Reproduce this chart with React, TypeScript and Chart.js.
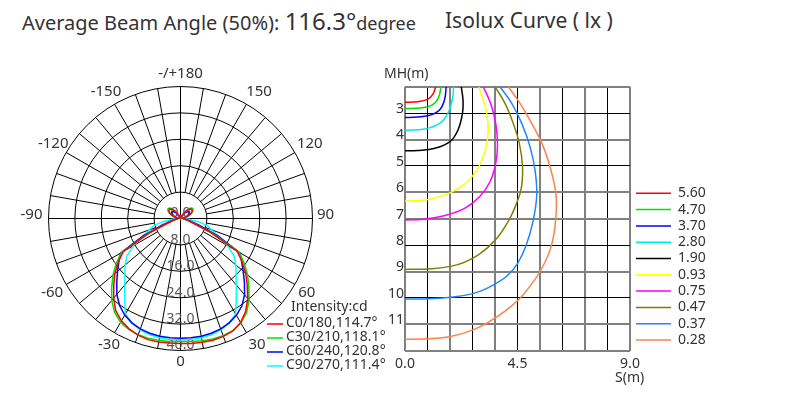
import React, { useEffect, useRef } from 'react';
import { Chart, registerables } from 'chart.js';

Chart.register(...registerables);

const FONT = '"Noto Sans", "Open Sans", "DejaVu Sans", sans-serif';
const TEXT = '#333333';

// ---------------- Polar luminous intensity (cd), gamma 0..180 step 5 ----------------
const GAMMA_DEG = [0, 5, 10, 15, 20, 25, 30, 35, 40, 45, 50, 55, 60, 65, 70, 75, 80, 85, 90, 95, 100, 105, 110, 115, 120, 125, 130, 135, 140, 145, 150, 155, 160, 165, 170, 175, 180];

const C0 = [37.9, 38.0, 38.1, 38.2, 38.0, 37.6, 36.4, 34.4, 31.7, 28.6, 25.8, 22.8, 19.8, 10.0, 4.0, 2.2, 1.4, 1.0, 0.8, 0.8, 1.2, 1.9, 2.6, 3.3, 3.9, 4.3, 4.4, 4.1, 3.4, 2.4, 1.3, 0.5, 0.1, 0, 0, 0, 0];
const C180 = [37.9, 37.9, 38.0, 38.0, 37.6, 36.9, 35.8, 34.2, 31.5, 28.6, 26.0, 23.0, 20.0, 10.5, 4.2, 2.3, 1.4, 1.0, 0.8, 0.8, 1.2, 1.9, 2.6, 3.3, 3.9, 4.3, 4.4, 4.1, 3.4, 2.4, 1.3, 0.5, 0.1, 0, 0, 0, 0];
const C30 = [37.3, 37.4, 37.6, 37.8, 37.8, 37.5, 36.6, 34.9, 32.3, 29.3, 26.5, 23.6, 20.5, 11.0, 4.5, 2.5, 1.5, 1.0, 0.9, 1.0, 1.4, 2.1, 2.9, 3.7, 4.3, 4.7, 4.8, 4.5, 3.8, 2.7, 1.5, 0.6, 0.1, 0, 0, 0, 0];
const C210 = [37.3, 37.4, 37.5, 37.6, 37.5, 37.1, 36.3, 34.8, 32.4, 29.5, 26.7, 23.8, 20.7, 11.0, 4.5, 2.5, 1.5, 1.0, 0.9, 1.0, 1.4, 2.1, 2.9, 3.7, 4.3, 4.7, 4.8, 4.5, 3.8, 2.7, 1.5, 0.6, 0.1, 0, 0, 0, 0];
const C60 = [36.3, 36.3, 36.2, 36.0, 35.6, 34.9, 33.9, 32.4, 30.2, 27.4, 24.8, 22.6, 20.8, 12.5, 6.0, 3.0, 1.6, 1.0, 0.7, 0.7, 1.0, 1.5, 2.1, 2.6, 3.0, 3.2, 3.2, 2.9, 2.3, 1.6, 0.8, 0.3, 0, 0, 0, 0, 0];
const C240 = [36.3, 36.3, 36.2, 36.0, 35.6, 34.9, 33.8, 32.2, 30.0, 27.3, 24.9, 22.8, 21.0, 12.5, 6.0, 3.0, 1.6, 1.0, 0.7, 0.7, 1.0, 1.5, 2.1, 2.6, 3.0, 3.2, 3.2, 2.9, 2.3, 1.6, 0.8, 0.3, 0, 0, 0, 0, 0];
const C90 = [36.8, 36.8, 36.7, 36.4, 35.9, 34.9, 33.4, 29.5, 26.3, 23.8, 21.9, 19.8, 16.5, 12.5, 10.0, 8.5, 5.5, 2.5, 1.0, 0.5, 0.3, 0.3, 0.4, 0.5, 0.6, 0.6, 0.6, 0.5, 0.4, 0.3, 0.2, 0.1, 0, 0, 0, 0, 0];
const C270 = [36.8, 36.8, 36.7, 36.4, 35.9, 34.9, 33.4, 29.5, 26.3, 23.8, 21.9, 19.8, 16.5, 12.5, 10.0, 8.5, 5.5, 2.5, 1.0, 0.5, 0.3, 0.3, 0.4, 0.5, 0.6, 0.6, 0.6, 0.5, 0.4, 0.3, 0.2, 0.1, 0, 0, 0, 0, 0];

const POLAR_NAMES = ['C0/180,114.7°', 'C30/210,118.1°', 'C60/240,120.8°', 'C90/270,111.4°'];
const POLAR_COLORS = ['#ff0000', '#00e000', '#0000ff', '#00ffff'];
const POLAR_RIGHT = [C0, C30, C60, C90];
const POLAR_LEFT = [C180, C210, C240, C270];
const POLAR_TICKS = [0, 8, 16, 24, 32, 40];
const POLAR_ANGLE_LABELS = [180, 150, 120, 90, 60, 30, 0, -30, -60, -90, -120, -150];
const POLAR_LEGEND_TITLE = 'Intensity:cd';

// angles clockwise from the top of the diagram, 5 degree steps
const POLAR_LABELS: number[] = [];
for (let i = 0; i < 72; i++) POLAR_LABELS.push(180 - i * 5);

// ---------------- Isolux curves: [S (m), MH (m)] ----------------
const ISO_LEVELS = ['5.60', '4.70', '3.70', '2.80', '1.90', '0.93', '0.75', '0.47', '0.37', '0.28'];
const ISO_COLORS = ['#ff0000', '#00e000', '#0000ff', '#00e8e8', '#000000', '#ffff00', '#ff00ff', '#808000', '#1e88ff', '#ff8048'];

const ISO_560: [number, number][] = [[1.23, 2.0], [1.12, 2.28], [0.9, 2.48], [0.5, 2.57], [0, 2.59]];
const ISO_470: [number, number][] = [[1.44, 2.0], [1.34, 2.42], [1.08, 2.7], [0.6, 2.81], [0, 2.83]];
const ISO_370: [number, number][] = [[1.65, 2.0], [1.58, 2.5], [1.38, 2.88], [0.9, 3.1], [0, 3.17]];
const ISO_280: [number, number][] = [[1.95, 2.0], [1.89, 2.5], [1.72, 3.0], [1.4, 3.38], [0.8, 3.6], [0, 3.65]];
const ISO_190: [number, number][] = [[2.25, 2.0], [2.32, 2.5], [2.3, 3.0], [2.12, 3.64], [1.8, 4.08], [1.2, 4.33], [0.5, 4.42], [0, 4.43]];
const ISO_093: [number, number][] = [[2.95, 2.0], [3.2, 2.7], [3.32, 3.4], [3.3, 4.0], [3.15, 4.6], [2.85, 5.2], [2.4, 5.68], [1.8, 6.02], [1.0, 6.26], [0, 6.34]];
const ISO_075: [number, number][] = [[3.13, 2.0], [3.45, 2.7], [3.63, 3.4], [3.7, 4.2], [3.63, 4.9], [3.4, 5.6], [3.0, 6.15], [2.4, 6.6], [1.6, 6.88], [0.7, 7.02], [0, 7.05]];
const ISO_047: [number, number][] = [[3.6, 2.0], [4.0, 2.63], [4.33, 3.39], [4.57, 4.14], [4.7, 5.0], [4.66, 5.8], [4.47, 6.4], [4.13, 7.1], [3.62, 7.8], [2.95, 8.36], [2.1, 8.74], [1.0, 8.9], [0, 8.92]];
const ISO_037: [number, number][] = [[3.8, 2.0], [4.27, 2.63], [4.67, 3.39], [5.0, 4.27], [5.2, 5.16], [5.27, 6.1], [5.12, 7.1], [4.85, 8.0], [4.5, 8.7], [4.1, 9.15], [3.55, 9.5], [2.9, 9.78], [2.0, 9.96], [1.0, 10.03], [0, 10.04]];
const ISO_028: [number, number][] = [[4.13, 2.0], [4.6, 2.63], [5.07, 3.39], [5.53, 4.27], [5.87, 5.28], [6.05, 6.2], [6.0, 7.3], [5.8, 8.19], [5.4, 9.0], [4.93, 9.64], [4.53, 10.08], [4.0, 10.5], [3.4, 10.88], [2.75, 11.2], [1.87, 11.45], [0.93, 11.55], [0, 11.57]];
const ISO_CURVES = [ISO_560, ISO_470, ISO_370, ISO_280, ISO_190, ISO_093, ISO_075, ISO_047, ISO_037, ISO_028];

const S_TICK_LABELS = [0, 4.5, 9];
const MH_TICK_LABELS = [3, 4, 5, 6, 7, 8, 9, 10, 11];
const MH_SOFT_LINES = [2, 4, 6, 7, 9, 11, 12];

// small per-label nudges of the angle labels (pixels), same order as POLAR_ANGLE_LABELS
const ANGLE_LABEL_NUDGE: [number, number][] = [[0, 4], [5, 3], [2, 1], [-2, -2], [-1, 3], [3, 1], [0, -2], [2, 1], [-1, 3], [-2, -2], [0, 1], [-1, 3]];

function polarValue(right: number[], left: number[], angle: number): number {
  const idx = GAMMA_DEG.indexOf(Math.abs(angle));
  return angle >= 0 ? right[idx] : left[idx];
}

const polarDecor = {
  id: 'polarDecor',
  beforeDatasetsDraw(chart: any) {
    const s = chart.scales.r;
    const ctx = chart.ctx;
    ctx.save();
    ctx.strokeStyle = '#000';
    ctx.lineWidth = 1;
    for (let i = 0; i < POLAR_LABELS.length; i += 2) {
      const a = POLAR_LABELS[i];
      const full = a % 90 === 0;
      const p1 = s.getPointPositionForValue(i, full ? 0 : 8);
      const p2 = s.getPointPositionForValue(i, 40);
      ctx.beginPath();
      ctx.moveTo(p1.x, p1.y);
      ctx.lineTo(p2.x, p2.y);
      ctx.stroke();
    }
    ctx.font = `14px ${FONT}`;
    ctx.fillStyle = '#555';
    ctx.textAlign = 'center';
    ctx.textBaseline = 'middle';
    POLAR_TICKS.forEach((v) => {
      const d = s.getDistanceFromCenterForValue(v);
      ctx.fillText(v.toFixed(1), s.xCenter, s.yCenter + d - 5);
    });
    ctx.restore();
  },
  afterDraw(chart: any) {
    const s = chart.scales.r;
    const ctx = chart.ctx;
    ctx.save();
    ctx.font = `15px ${FONT}`;
    ctx.fillStyle = TEXT;
    ctx.textAlign = 'center';
    ctx.textBaseline = 'middle';
    POLAR_ANGLE_LABELS.forEach((a, k) => {
      const idx = ((180 - a) / 5 + 72) % 72;
      const p = s.getPointPosition(idx, s.drawingArea + 15);
      const [nx, ny] = ANGLE_LABEL_NUDGE[k];
      ctx.fillText(a === 180 ? '-/+180' : String(a), p.x + nx, p.y - 2 + ny);
    });
    // legend
    ctx.font = `14px ${FONT}`;
    ctx.textAlign = 'left';
    ctx.fillText(POLAR_LEGEND_TITLE, 291, 257);
    chart.data.datasets.forEach((ds: any, i: number) => {
      const y = 274 + i * 14;
      ctx.strokeStyle = ds.borderColor;
      ctx.lineWidth = 1.5;
      ctx.beginPath();
      ctx.moveTo(267, y);
      ctx.lineTo(283, y);
      ctx.stroke();
      ctx.fillStyle = TEXT;
      ctx.fillText(ds.label, 286, y - 0.5);
    });
    ctx.restore();
  },
};

const isoDecor = {
  id: 'isoDecor',
  afterDraw(chart: any) {
    const xs = chart.scales.x;
    const ys = chart.scales.y;
    const ctx = chart.ctx;
    ctx.save();
    ctx.fillStyle = TEXT;
    ctx.font = `14px ${FONT}`;
    ctx.textBaseline = 'middle';
    ctx.textAlign = 'right';
    MH_TICK_LABELS.forEach((v) => {
      ctx.fillText(String(v), xs.left - 1, ys.getPixelForValue(v) - 4);
    });
    ctx.textAlign = 'center';
    S_TICK_LABELS.forEach((v) => {
      ctx.fillText(v.toFixed(1), xs.getPixelForValue(v), ys.bottom + 13);
    });
    ctx.textAlign = 'left';
    ctx.fillText('MH(m)', 4, 24);
    ctx.fillText('S(m)', 235, 328);
    chart.data.datasets.forEach((ds: any, i: number) => {
      const y = 143.3 + i * 16.3;
      ctx.strokeStyle = ds.borderColor;
      ctx.lineWidth = 1.5;
      ctx.beginPath();
      ctx.moveTo(256, y);
      ctx.lineTo(291, y);
      ctx.stroke();
      ctx.fillStyle = TEXT;
      ctx.fillText(ds.label, 298, y);
    });
    ctx.restore();
  },
};

export default function App() {
  const polarRef = useRef<HTMLCanvasElement | null>(null);
  const isoRef = useRef<HTMLCanvasElement | null>(null);

  useEffect(() => {
    const polar = new Chart(polarRef.current as HTMLCanvasElement, {
      type: 'radar',
      data: {
        labels: POLAR_LABELS.map(String),
        datasets: POLAR_NAMES.map((name, k) => ({
          label: name,
          data: POLAR_LABELS.map((a) => polarValue(POLAR_RIGHT[k], POLAR_LEFT[k], a)),
          borderColor: POLAR_COLORS[k],
          backgroundColor: 'transparent',
          borderWidth: 1.5,
          pointRadius: 0,
          fill: false,
          tension: 0,
        })),
      },
      options: {
        animation: false,
        responsive: false,
        events: [],
        layout: { padding: 0 },
        plugins: { legend: { display: false }, tooltip: { enabled: false } },
        scales: {
          r: {
            min: 0,
            max: 40,
            startAngle: 0,
            ticks: { display: false, stepSize: 8 },
            grid: { circular: true, color: '#000', lineWidth: 1 },
            angleLines: { display: false },
            pointLabels: { display: false },
            afterFit: (s: any) => {
              s.xCenter = 180.5;
              s.yCenter = 168.5;
              s.drawingArea = 132;
            },
          } as any,
        },
      },
      plugins: [polarDecor],
    } as any);

    const iso = new Chart(isoRef.current as HTMLCanvasElement, {
      type: 'scatter',
      data: {
        datasets: ISO_CURVES.map((pts, k) => ({
          label: ISO_LEVELS[k],
          data: pts.map(([x, y]) => ({ x, y })),
          showLine: true,
          borderColor: ISO_COLORS[k],
          backgroundColor: ISO_COLORS[k],
          borderWidth: 1.5,
          pointRadius: 0,
          tension: 0.4,
          fill: false,
        })),
      },
      options: {
        animation: false,
        responsive: false,
        events: [],
        layout: { padding: { left: 25, right: 181, top: 36.7, bottom: 44.3 } },
        plugins: { legend: { display: false }, tooltip: { enabled: false } },
        scales: {
          x: {
            type: 'linear',
            min: 0,
            max: 9,
            ticks: { display: false, stepSize: 0.9 },
            grid: {
              drawTicks: false,
              color: (c: any) => (c.index % 2 === 0 ? '#808080' : '#000'),
              lineWidth: (c: any) => (c.index % 2 === 0 ? 2 : 1),
            },
            border: { display: false },
          },
          y: {
            type: 'linear',
            min: 2,
            max: 12,
            reverse: true,
            ticks: { display: false, stepSize: 1 },
            grid: {
              drawTicks: false,
              color: (c: any) => (c.tick && MH_SOFT_LINES.includes(Math.round(c.tick.value)) ? '#808080' : '#000'),
              lineWidth: (c: any) => (c.tick && MH_SOFT_LINES.includes(Math.round(c.tick.value)) ? 2 : 1),
            },
            border: { display: false },
          },
        },
      },
      plugins: [isoDecor],
    } as any);

    return () => {
      polar.destroy();
      iso.destroy();
    };
  }, []);

  return (
    <div style={{ position: 'absolute', left: 0, top: 0, width: 811, height: 395, background: '#fff', fontFamily: FONT, color: TEXT, overflow: 'hidden' }}>
      <div style={{ position: 'absolute', left: 22, top: 8, fontSize: 20, lineHeight: '26px', whiteSpace: 'nowrap' }}>
        Average Beam Angle (50%): <span style={{ fontSize: 24 }}>116.3°</span><span style={{ fontSize: 18 }}>degree</span>
      </div>
      <div style={{ position: 'absolute', left: 445, top: 7, fontSize: 21, lineHeight: '26px', whiteSpace: 'nowrap' }}>
        Isolux Curve ( lx )
      </div>
      <canvas ref={polarRef} width={390} height={345} style={{ position: 'absolute', left: 0, top: 50, width: 390, height: 345 }} />
      <canvas ref={isoRef} width={431} height={345} style={{ position: 'absolute', left: 380, top: 50, width: 431, height: 345 }} />
    </div>
  );
}
